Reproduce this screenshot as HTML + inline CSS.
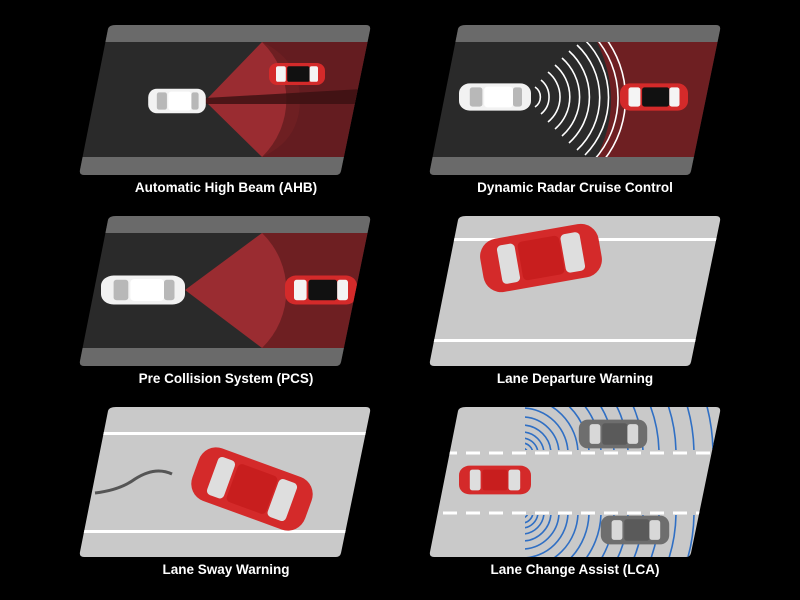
<!DOCTYPE html>
<html><head><meta charset="utf-8"><style>
html,body{margin:0;padding:0;background:#000;width:800px;height:600px;overflow:hidden;}
svg{display:block}
text{font-family:"Liberation Sans",sans-serif;font-weight:bold;font-size:13.5px;fill:#fff;text-anchor:middle}
</style></head><body>
<svg width="800" height="600" viewBox="0 0 800 600" xmlns="http://www.w3.org/2000/svg">
<defs>
<g id="carW">
 <rect x="-40" y="-17" width="80" height="34" rx="12" fill="#f2f2f2"/>
 <rect x="-28" y="-12" width="14" height="24" rx="3" fill="#b8b8b8"/>
 <rect x="-12" y="-13" width="32" height="26" rx="4" fill="#ffffff"/>
 <rect x="20" y="-12" width="10" height="24" rx="3" fill="#b8b8b8"/>
</g>
<g id="carR">
 <rect x="-40" y="-17" width="80" height="34" rx="12" fill="#d42a2a"/>
 <rect x="-30" y="-12" width="14" height="24" rx="3" fill="#f4f4f4"/>
 <rect x="-14" y="-12" width="32" height="24" rx="3" fill="#111"/>
 <rect x="18" y="-12" width="12" height="24" rx="3" fill="#f4f4f4"/>
</g>
<g id="carRR">
 <rect x="-40" y="-18" width="80" height="36" rx="12" fill="#d42a2a"/>
 <rect x="-28" y="-13" width="12" height="26" rx="3" fill="#dedede"/>
 <rect x="-14" y="-13" width="28" height="26" rx="3" fill="#c81e1e"/>
 <rect x="15" y="-13" width="13" height="26" rx="3" fill="#dedede"/>
</g>
<g id="carG">
 <rect x="-38" y="-16" width="76" height="32" rx="10" fill="#6e6e6e"/>
 <rect x="-26" y="-11" width="12" height="22" rx="3" fill="#d8d8d8"/>
 <rect x="-12" y="-12" width="28" height="24" rx="3" fill="#5a5a5a"/>
 <rect x="16" y="-11" width="12" height="22" rx="3" fill="#d8d8d8"/>
</g>
<g id="rings" fill="none" stroke="#2f6fc4" stroke-width="1.6">
 <circle r="6"/><circle r="11"/><circle r="16"/><circle r="22"/><circle r="29"/><circle r="37"/><circle r="46"/><circle r="56"/><circle r="67"/><circle r="79"/><circle r="92"/><circle r="106"/><circle r="121"/><circle r="137"/><circle r="154"/><circle r="172"/><circle r="191"/>
</g>
<clipPath id="c1"><path d="M116,25 H366 Q371,25 370,30 L341,171 Q340,175 336,175 H84 Q79,175 80,170 L108,29 Q109,25 116,25Z"/></clipPath>
<clipPath id="c2"><path d="M466,25 H716 Q721,25 720,30 L691,171 Q690,175 686,175 H434 Q429,175 430,170 L458,29 Q459,25 466,25Z"/></clipPath>
<clipPath id="laneT"><rect x="525" y="0" width="300" height="68"/></clipPath>
<clipPath id="laneB"><rect x="525" y="133" width="300" height="60"/></clipPath>
</defs>

<g clip-path="url(#c1)">
 <rect x="70" y="20" width="310" height="160" fill="#2a2a2a"/>
 <rect x="262" y="42" width="120" height="115" fill="#6e1f22"/>
 <path d="M205,101 L262,42 A80,80 0 0 1 262,157 Z" fill="#9a2c31"/>
 <path d="M262,42 Q300,60 300,100 Q300,140 262,157 L380,157 L380,42Z" fill="#5a1a1e" opacity="0.5"/>
 <path d="M205,98 L380,88 L380,104 L205,104Z" fill="#3a1012" opacity="0.8"/>
 <rect x="70" y="20" width="310" height="22" fill="#6a6a6a"/>
 <rect x="70" y="157" width="310" height="20" fill="#6a6a6a"/>
 <use href="#carW" transform="translate(177,101) scale(0.72,0.72)"/>
 <use href="#carR" transform="translate(297,74) scale(0.7,0.65)"/>
</g>
<text x="226" y="192">Automatic High Beam (AHB)</text>

<g clip-path="url(#c2)">
 <rect x="420" y="20" width="310" height="160" fill="#2a2a2a"/>
 <path d="M597,42 Q625,100 597,157 L730,157 L730,42Z" fill="#6e1f22"/>
 <g fill="none" stroke="#fff" stroke-width="1.6">
  <path d="M535,87 A12,12 0 0 1 535,107"/>
  <path d="M541,80 A22,22 0 0 1 541,114"/>
  <path d="M548,72 A32,32 0 0 1 548,122"/>
  <path d="M555,65 A42,42 0 0 1 555,129"/>
  <path d="M562,58 A52,52 0 0 1 562,136"/>
  <path d="M569,51 A62,62 0 0 1 569,143"/>
  <path d="M577,45 A72,72 0 0 1 577,150"/>
  <path d="M585,40 A82,82 0 0 1 585,155"/>
  <path d="M594,36 A92,92 0 0 1 594,160"/>
  <path d="M604,36 A100,100 0 0 1 604,160"/>
 </g>
 <rect x="420" y="20" width="310" height="22" fill="#6a6a6a"/>
 <rect x="420" y="157" width="310" height="20" fill="#6a6a6a"/>
 <use href="#carW" transform="translate(495,97) scale(0.9,0.8)"/>
 <use href="#carR" transform="translate(654,97) scale(0.85,0.8)"/>
</g>
<text x="575" y="192">Dynamic Radar Cruise Control</text>

<g clip-path="url(#c1)" transform="translate(0,191)">
 <rect x="70" y="20" width="310" height="160" fill="#2a2a2a"/>
 <rect x="262" y="42" width="120" height="115" fill="#6e1f22"/>
 <path d="M185,99 L262,42 A80,80 0 0 1 262,157 Z" fill="#9a2c31"/>
 <rect x="70" y="20" width="310" height="22" fill="#6a6a6a"/>
 <rect x="70" y="157" width="310" height="20" fill="#6a6a6a"/>
 <use href="#carW" transform="translate(143,99) scale(1.05,0.85)"/>
 <use href="#carR" transform="translate(321,99) scale(0.9,0.85)"/>
</g>
<text x="226" y="383">Pre Collision System (PCS)</text>

<g clip-path="url(#c2)" transform="translate(0,191)">
 <rect x="420" y="20" width="310" height="160" fill="#c9c9c9"/>
 <rect x="420" y="47" width="310" height="3" fill="#fff"/>
 <rect x="420" y="148" width="310" height="3" fill="#fff"/>
 <use href="#carRR" transform="translate(541,67) rotate(-10) scale(1.5,1.5)"/>
</g>
<text x="575" y="383">Lane Departure Warning</text>

<g clip-path="url(#c1)" transform="translate(0,382)">
 <rect x="70" y="20" width="310" height="160" fill="#c9c9c9"/>
 <rect x="70" y="50" width="310" height="3" fill="#fff"/>
 <rect x="70" y="148" width="310" height="3" fill="#fff"/>
 <path d="M95,111 Q120,108 135,97 Q155,84 172,92" fill="none" stroke="#555" stroke-width="3"/>
 <use href="#carRR" transform="translate(252,107) rotate(20) scale(1.5,1.55)"/>
</g>
<text x="226" y="574">Lane Sway Warning</text>

<g clip-path="url(#c2)" transform="translate(0,382)">
 <rect x="420" y="20" width="310" height="160" fill="#c9c9c9"/>
 <line x1="420" y1="71" x2="730" y2="71" stroke="#fff" stroke-width="3" stroke-dasharray="14,9"/>
 <line x1="420" y1="131" x2="730" y2="131" stroke="#fff" stroke-width="3" stroke-dasharray="14,9"/>
 <g clip-path="url(#laneT)"><use href="#rings" transform="translate(522,72)"/></g>
 <g clip-path="url(#laneB)"><use href="#rings" transform="translate(522,130)"/></g>
 <use href="#carG" transform="translate(613,52) scale(0.9,0.9)"/>
 <use href="#carG" transform="translate(635,148) scale(0.9,0.9)"/>
 <use href="#carRR" transform="translate(495,98) scale(0.9,0.8)"/>
</g>
<text x="575" y="574">Lane Change Assist (LCA)</text>
</svg>
</body></html>
